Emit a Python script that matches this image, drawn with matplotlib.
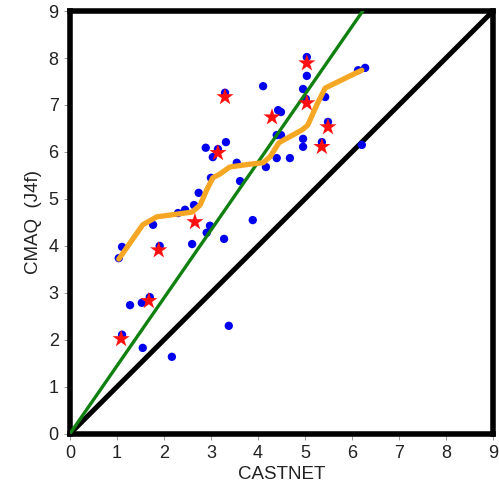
"""
CMAQ (J4f) vs CASTNET scatter
"""

import numpy as np
import matplotlib
matplotlib.use("Agg")
import matplotlib.pyplot as plt

plt.rcParams['font.family'] = ['Liberation Sans', 'DejaVu Sans']

# Blue dots: all site pairs
castnet = [1.11, 1.55, 2.17, 3.38, 1.28, 1.53, 1.70, 1.04, 1.11, 1.91,
           2.60, 3.28, 1.77, 2.98, 2.91, 3.89, 2.30, 2.45, 2.64, 2.74,
           3.62, 3.00, 3.55, 4.17, 4.40, 4.68, 3.04, 3.15, 2.89, 3.32,
           4.40, 4.49, 4.96, 4.96, 5.36, 6.21, 5.49, 4.43, 4.49, 5.02,
           5.43, 4.96, 4.11, 3.30, 5.04, 5.04, 6.28, 6.13]
cmaq = [2.11, 1.83, 1.64, 2.30, 2.74, 2.79, 2.91, 3.74, 3.98, 4.00,
        4.04, 4.15, 4.45, 4.43, 4.28, 4.55, 4.70, 4.77, 4.87, 5.13,
        5.38, 5.45, 5.77, 5.68, 5.87, 5.87, 5.89, 6.06, 6.09, 6.21,
        6.36, 6.36, 6.28, 6.11, 6.21, 6.15, 6.64, 6.89, 6.85, 7.13,
        7.17, 7.34, 7.40, 7.26, 7.62, 8.02, 7.79, 7.74]

# Red stars: highlighted sites
star_x = [1.09, 1.68, 1.89, 2.66, 3.15, 3.30, 4.30, 5.04, 5.04, 5.49, 5.36]
star_y = [2.02, 2.83, 3.91, 4.51, 5.98, 7.17, 6.74, 7.89, 7.04, 6.53, 6.11]

# Orange running mean
smooth_x = [1.04, 1.55, 1.85, 2.60, 2.77, 2.91, 3.04, 3.19, 3.40, 3.83,
            4.11, 4.26, 4.45, 4.94, 5.06, 5.26, 5.43, 5.96, 6.21]
smooth_y = [3.72, 4.45, 4.62, 4.72, 4.87, 5.19, 5.45, 5.53, 5.68, 5.74,
            5.77, 5.90, 6.20, 6.47, 6.57, 7.02, 7.36, 7.62, 7.74]

# Regression slope (green) and axis range
fit_slope = 1.445
ticks = list(range(10))

fig = plt.figure(figsize=(4.99, 5.01), dpi=100)
ax = fig.add_axes([0.140, 0.134, 0.848, 0.844])

line_x = np.array([0, 9])
ax.plot(line_x, line_x, color='black', lw=3.6, zorder=2)
ax.scatter(castnet, cmaq, s=36, color='#0000ee', edgecolors='none', zorder=3)
ax.plot(line_x, fit_slope * line_x, color='#108010', lw=2.4, zorder=4)
ax.plot(smooth_x, smooth_y, color='#f5a623', lw=3.8, zorder=5,
        solid_joinstyle='round', solid_capstyle='round')
ax.scatter(star_x, star_y, s=170, marker='*', color='#ff1010',
           edgecolors='none', zorder=6)

ax.set_xlim(0, 9)
ax.set_ylim(0, 9)
ax.set_xticks(ticks)
ax.set_yticks(ticks)
ax.tick_params(direction='out', length=4, width=0.6, color='#888888',
               labelsize=13, labelcolor='#222222', pad=4)

for s in ax.spines.values():
    s.set_linewidth(4)
    s.set_color('black')

ax.set_xlabel('CASTNET', fontsize=13.5, color='#222222', labelpad=3)
ax.set_ylabel('CMAQ  (J4f)', fontsize=13.5, color='#222222', labelpad=5)

fig.savefig('out.png', dpi=100)
